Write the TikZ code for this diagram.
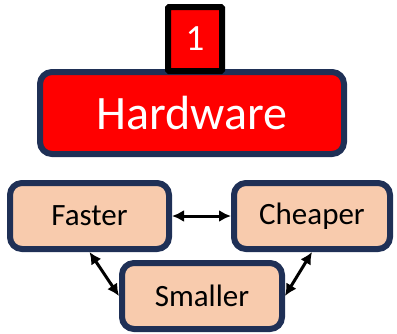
\documentclass[tikz,border=0pt]{standalone}
\usepackage{fontspec}
\setmainfont{Carlito}
\usetikzlibrary{arrows.meta,positioning}
\definecolor{navy}{HTML}{1F3056}
\definecolor{peach}{HTML}{F8CBAD}
\definecolor{hwred}{HTML}{FF0000}

\begin{document}
\begin{tikzpicture}[x=1pt,y=-1pt]

\tikzstyle{block} = [draw=navy, line width=6pt, rounded corners=12pt, text centered, inner sep=0pt]
\tikzstyle{redblock} = [block, fill=hwred, text=white, minimum width=304pt, minimum height=82pt, font=\fontsize{48}{52}\selectfont]
\tikzstyle{smallblock} = [block, fill=peach, text=black, minimum height=66pt, font=\fontsize{31}{34}\selectfont]
\tikzstyle{badge} = [draw=black, line width=6pt, rounded corners=1pt, fill=hwred, text=white, minimum width=54pt, minimum height=64pt, inner sep=0pt, font=\fontsize{37}{40}\selectfont]
\tikzstyle{link} = [{Latex[length=12pt,width=12pt]}-{Latex[length=12pt,width=12pt]}, line width=3pt, black]

\useasboundingbox (0,0) rectangle (397,333);

\draw node (anchor) at (0,0) {};

%Hardware: top

\path (anchor)+(192,113) node (hardware) [redblock] {Hardware};

\path (hardware.north)+(3,-30) node (number) [badge] {1};

%Three goals: bottom

\path (anchor)+(89.5,216) node (faster) [smallblock, minimum width=159pt] {Faster};

\path (anchor)+(312,216) node (cheaper) [smallblock, minimum width=156pt] {Cheaper};

\path (anchor)+(202,296) node (smaller) [smallblock, minimum width=160pt] {Smaller};

%Arrows

\draw [link] (faster.east) -- (cheaper.west);
\draw [link] (faster.south) -- (smaller.west);
\draw [link] (cheaper.south) -- (smaller.east);

\end{tikzpicture}
\end{document}
